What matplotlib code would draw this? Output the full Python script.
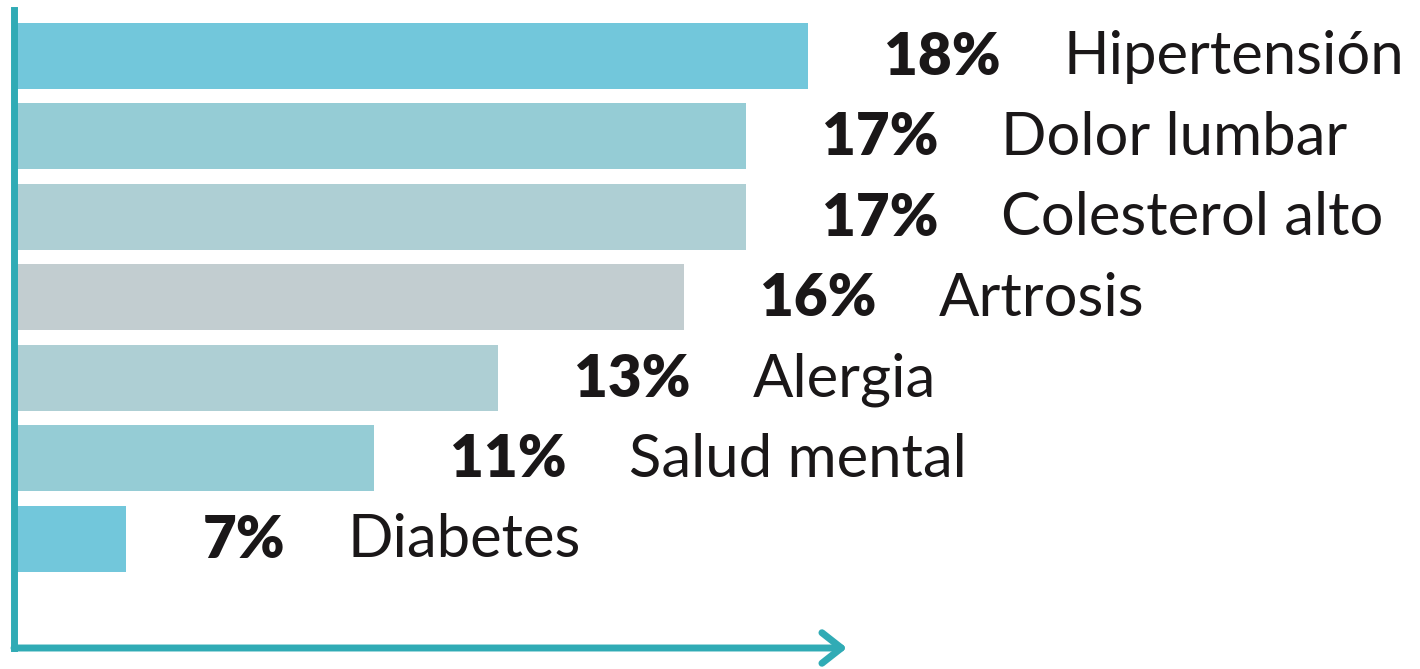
import matplotlib.pyplot as plt

# datos
labels = ["Hipertensión", "Dolor lumbar", "Colesterol alto", "Artrosis",
          "Alergia", "Salud mental", "Diabetes"]
values = [18, 17, 17, 16, 13, 11, 7]
pct_text = ["18%", "17%", "17%", "16%", "13%", "11%", "7%"]
colors = ["#72C7DB", "#95CCD5", "#AECFD4", "#C2CDD0",
          "#AECFD4", "#95CCD5", "#72C7DB"]

axis_color = "#30ABB5"
text_color = "#1a1718"

fig = plt.figure(figsize=(14.2, 6.69), dpi=100)
W, H = 1420, 669
ax = fig.add_axes([14 / W, (H - 648) / H, (847 - 14) / W, (648 - 10) / H])

y = list(range(len(values)))
ax.barh(y, values, height=0.82, color=colors)

# el eje x no empieza en 0
ax.set_xlim(5.195, 5.195 + 833 / 62)
ax.set_ylim(7.354, -0.571)

for i, v in enumerate(values):
    p = ax.annotate(pct_text[i], xy=(v, i), xytext=(55, -1), textcoords="offset points",
                    fontsize=42, fontweight="heavy", family="Lato", color=text_color,
                    ha="left", va="center", annotation_clip=False)
    ax.annotate(labels[i], xy=(1, 0.5), xycoords=p, xytext=(45, 0),
                textcoords="offset points", fontsize=43, family="Lato",
                color=text_color, ha="left", va="center", annotation_clip=False)

# ejes: linea izquierda y flecha abajo
for s in ax.spines.values():
    s.set_visible(False)
ax.set_xticks([])
ax.set_yticks([])
ax.plot([0, 0], [0, 1], transform=ax.transAxes, color=axis_color, lw=5,
        solid_capstyle="projecting", clip_on=False)
ax.annotate("", xy=(1, 0), xycoords="axes fraction", xytext=(0, 0),
            arrowprops=dict(arrowstyle="->,head_length=1.4,head_width=1.1",
                            color=axis_color, lw=5, shrinkA=0, shrinkB=0))

fig.savefig("out.png", dpi=100)
